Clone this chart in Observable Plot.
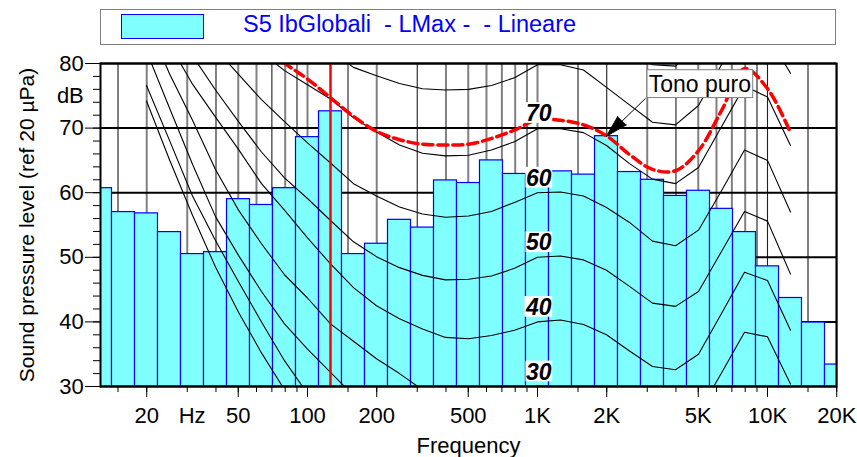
<!DOCTYPE html>
<html>
<head>
<meta charset="utf-8">
<script src="https://cdn.jsdelivr.net/npm/d3@7"></script>
<script src="https://cdn.jsdelivr.net/npm/@observablehq/plot@0.6"></script>
<style>
  html, body { margin: 0; padding: 0; background: #fff; }
  body { width: 857px; height: 457px; overflow: hidden; font-family: "Liberation Sans", Arial, sans-serif; }
  #legend { position: relative; width: 857px; height: 50px; }
  #legend .box { position: absolute; left: 100px; top: 9px; width: 734px; height: 34px; border: 1px solid #7f7f7f; }
  #legend .swatch { position: absolute; left: 20px; top: 4px; width: 81px; height: 23px; background: #80ffff; border: 1px solid #0000ff; }
  #legend .name { position: absolute; left: 142px; top: -3px; line-height: 34px; font-size: 23.5px; color: #0000ff; white-space: pre; }
  #chart svg { display: block; }
</style>
</head>
<body>
<div id="legend"><div class="box"><div class="swatch"></div><div class="name"></div></div></div>
<div id="chart"></div>
<script>
// Legend entry for the measured spectrum
const seriesName = "S5 IbGlobali  - LMax -  - Lineare";

// One-third-octave band spectrum (dB re 20 µPa)
const bandFreqs = [12.5, 16, 20, 25, 31.5, 40, 50, 63, 80, 100, 125, 160, 200, 250, 315, 400, 500, 630, 800,
  1000, 1250, 1600, 2000, 2500, 3150, 4000, 5000, 6300, 8000, 10000, 12500, 16000, 20000];
const bandLevels = [60.7, 57.0, 56.8, 53.9, 50.5, 50.8, 59.0, 58.1, 60.7, 68.6, 72.6, 50.5, 52.1, 55.8, 54.6, 61.9, 61.5, 65.0, 62.9,
  62.2, 63.3, 62.8, 68.75, 63.2, 62.0, 59.5, 60.3, 57.5, 53.9, 48.6, 43.7, 39.9, 33.4];

// Equal-loudness contours, sampled at the standard frequencies (null = off the chart)
const isoFreqs = [20, 25, 31.5, 40, 50, 63, 80, 100, 125, 160, 200, 250, 315, 400, 500, 630, 800,
  1000, 1250, 1600, 2000, 2500, 3150, 4000, 5000, 6300, 8000, 10000, 12500];
const isoThreshold = [74.2, 65.1, 56.5, 48.5, 41.5, 35.2, 29.5, null, null, null, null, null, null, null, null, null, null,
  null, null, null, null, null, null, null, null, null, null, null, null];
const iso10 = [76.6, 68.1, 59.5, 52.6, 46.2, 40.0, 34.0, 28.9, null, null, null, null, null, null, null, null, null,
  null, null, null, null, null, null, null, null, null, null, null, null];
const iso20 = [81.9, 73.1, 64.4, 56.3, 50.3, 44.7, 39.7, 35.8, 32.2, 28.6, null, null, null, null, null, null, null,
  null, null, null, null, null, null, null, null, null, null, null, null];
const iso30 = [86.8, 78.4, 71.2, 63.6, 57.3, 52.1, 47.3, 43.7, 39.7, 37.0, 34.3, 32.0, 29.5, 27.6, 27.4, 28.2, 28.9,
  30.1, 29.9, 29.2, 27.3, 24.8, 22.9, 22.5, 25.9, 32.1, 38.4, 37.7, 30.4];
const iso40 = [92.0, 83.0, 76.8, 71.7, 66.7, 61.4, 57.3, 53.0, 49.0, 45.3, 42.5, 40.5, 38.9, 37.6, 37.4, 37.9, 38.7,
  40.0, 40.3, 39.6, 38.0, 35.5, 33.1, 32.6, 35.0, 41.3, 47.7, 46.4, 38.7];
const iso50 = [98.0, 89.0, 81.2, 75.9, 71.0, 66.3, 62.3, 59.1, 55.7, 52.4, 50.1, 48.4, 47.2, 46.5, 46.6, 47.1, 48.3,
  50.0, 50.2, 49.6, 48.0, 45.5, 42.9, 42.4, 44.7, 50.9, 57.1, 55.6, 47.4];
const iso60 = [104.0, 95.0, 88.0, 82.3, 78.3, 74.4, 71.0, 67.7, 64.6, 61.4, 59.5, 57.8, 56.7, 56.2, 56.4, 57.1, 58.5,
  60.0, 60.1, 59.5, 57.7, 55.4, 52.5, 51.8, 54.2, 60.3, 66.6, 65.0, 57.0];
const iso70 = [110.0, 101.0, 95.0, 90.0, 86.0, 81.7, 78.9, 76.7, 74.5, 71.6, 69.4, 67.4, 66.1, 65.7, 65.8, 66.6, 67.9,
  69.9, 69.9, 69.3, 67.3, 64.5, 62.1, 61.4, 63.9, 70.2, 76.5, 74.8, 67.3];
const iso80 = [null, null, null, null, null, null, null, null, 82.0, 79.4, 78.1, 76.9, 76.1, 75.9, 76.0, 76.6, 77.8,
  79.8, 79.8, 79.0, 76.3, 73.6, 70.9, 70.5, 73.5, 79.8, 86.1, 84.4, 78.5];
const iso90 = [null, null, null, null, null, null, null, null, null, null, null, null, null, null, null, null, null,
  null, null, 88.5, 85.5, 82.5, 79.8, 79.6, 82.5, 89.0, null, null, null];

// Contour through the pure tone
const toneIsophone = [null, null, null, null, null, 83.5, 80.1, 77.6, 74.7, 71.8, 69.5, 68.2, 67.5, 67.4, 67.5, 68.4, 69.7,
  71.3, 71.2, 70.5, 68.8, 65.9, 63.6, 63.4, 66.5, 72.7, 79.2, 76.1, 69.3];

// Contour labels (phon)
const phonLabels = [30, 40, 50, 60, 70];

// Frequency grid: grey lines, plus a few drawn as thin dark lines
const gridFreqs = [15, 20, 30, 40, 50, 60, 70, 80, 90, 100, 150, 200, 300, 400, 500, 600, 700, 800, 900,
  1000, 1500, 2000, 3000, 4000, 5000, 6000, 7000, 8000, 9000, 10000, 15000, 20000];
const darkGridFreqs = [70, 90, 150, 300, 1500, 2000, 4000, 10000];
const majorFreqs = [20, 50, 100, 200, 500, 1000, 2000, 5000, 10000, 20000];
const freqTickFreqs = [20, 31.5, 50, 100, 200, 500, 1000, 2000, 5000, 10000, 20000];
const freqTickLabels = ["20", "Hz", "50", "100", "200", "500", "1K", "2K", "5K", "10K", "20K"];
const levelTicks = [30, 40, 50, 60, 70, 80];
const levelMinorTicks = d3.range(30, 81, 2);
const unitLabel = "dB";
const unitLevel = 75;

// Pure tone annotation
const toneText = "Tono puro";
const toneFreq = 2000;
const toneLabelAt = {f: 5080, level: 76.8};
const toneLeaderFrom = {f: 2950, level: 74.6};

const yTitle = "Sound pressure level (ref 20 µPa)";
const xTitle = "Frequency";

// ---- derived tables ----
const exactBand = f => 1000 * 10 ** (Math.round(10 * Math.log10(f / 1000)) / 10);
const yMin = levelTicks[0];

const bars = bandFreqs.map((f, i) => ({
  f: exactBand(f),
  lo: exactBand(f) * 10 ** -0.05,
  hi: exactBand(f) * 10 ** 0.05,
  level: bandLevels[i]
}));

const contours = [
  ["threshold", isoThreshold], ["10", iso10], ["20", iso20], ["30", iso30], ["40", iso40],
  ["50", iso50], ["60", iso60], ["70", iso70], ["80", iso80], ["90", iso90]
];
const contourRows = contours.flatMap(([curve, values]) =>
  isoFreqs.map((f, i) => ({curve, f: exactBand(f), level: values[i]})));
const toneRows = isoFreqs.map((f, i) => ({f: exactBand(f), level: toneIsophone[i]}))
  .filter(d => d.level != null);

const maxLevel = d3.max(bandLevels);
const maxBand = bars[bandLevels.indexOf(maxLevel)];
const toneBar = bars[bandFreqs.indexOf(toneFreq)];

const phonRows = phonLabels.map(p => ({f: 1012, level: p + 2.2, text: String(p)}));
const freqLabelRows = freqTickFreqs.map((f, i) => ({f, text: freqTickLabels[i]}));
const greyGridFreqs = gridFreqs.filter(f => !darkGridFreqs.includes(f));

const fontFamily = '"Liberation Sans", Arial, sans-serif';

document.querySelector("#legend .name").textContent = seriesName;

const chart = Plot.plot({
  width: 857,
  height: 407,
  marginTop: 13,
  marginRight: 21,
  marginBottom: 71,
  marginLeft: 100,
  style: {fontFamily, fontSize: "22px", background: "white", color: "black", overflow: "visible"},
  x: {type: "log", domain: [10 ** 1.1, 10 ** 4.3], label: null},
  y: {domain: [30, 80], label: null},
  marks: [
    // grid
    Plot.ruleX(greyGridFreqs, {stroke: "#808080", strokeWidth: 2}),
    Plot.ruleX(darkGridFreqs, {stroke: "#202020", strokeWidth: 1.1}),
    Plot.ruleY(levelTicks, {stroke: "black", strokeWidth: 2}),
    // spectrum
    Plot.rectY(bars, {x1: "lo", x2: "hi", y1: yMin, y2: "level", fill: "#80ffff", stroke: "#0000ff", strokeWidth: 1.2, clip: true}),
    // equal-loudness contours
    Plot.line(contourRows, {x: "f", y: "level", z: "curve", stroke: "black", strokeWidth: 1.1, clip: true}),
    Plot.line(toneRows, {x: "f", y: "level", stroke: "#ff0000", strokeWidth: 3.5, strokeDasharray: "10,5", curve: "catmull-rom", clip: true}),
    // band with the maximum level
    Plot.ruleX([maxBand], {x: "f", stroke: "#ff0000", strokeWidth: 2.5}),
    // contour labels
    Plot.text(phonRows, {x: "f", y: "level", text: "text", fontSize: 23, fontWeight: "bold", fontStyle: "italic",
      fill: "black", ariaDescription: "phon-labels"}),
    // pure tone annotation
    Plot.link([toneBar], {x1: () => toneLeaderFrom.f, y1: () => toneLeaderFrom.level, x2: "f", y2: "level", stroke: "black", strokeWidth: 1}),
    Plot.vector([toneBar], {x: "f", y: "level", anchor: "end", shape: "spike", length: 22, r: 6, rotate: 225,
      fill: "black", stroke: "black", strokeWidth: 1}),
    Plot.text([toneLabelAt], {x: "f", y: "level", text: () => toneText, fontSize: 23, fill: "black", ariaDescription: "tone-label"}),
    // frame and axes
    Plot.frame({stroke: "black", strokeWidth: 2}),
    Plot.axisX({ticks: gridFreqs, tickSize: 6, fill: "none", label: null}),
    Plot.axisX({ticks: majorFreqs, tickSize: 11, fill: "none", label: null}),
    Plot.text(freqLabelRows, {x: "f", frameAnchor: "bottom", dy: 20.7, lineAnchor: "top", text: "text", fontSize: 22, fill: "black"}),
    Plot.axisY({ticks: levelMinorTicks, tickSize: 7, fill: "none", label: null}),
    Plot.axisY({ticks: levelTicks, tickSize: 15, fill: "none", label: null}),
    Plot.axisY({ticks: levelTicks, tickSize: 0, tickPadding: 16.7, fontSize: 22, label: null}),
    Plot.axisY({ticks: [unitLevel], tickSize: 0, tickPadding: 16.7, tickFormat: () => unitLabel, fontSize: 22, label: null}),
    // titles
    Plot.text([yTitle], {frameAnchor: "left", dx: -73, rotate: -90, text: d => d, fontSize: 21, textAnchor: "middle", lineAnchor: "middle"}),
    Plot.text([xTitle], {frameAnchor: "bottom", dy: 59, text: d => d, fontSize: 22, textAnchor: "middle", lineAnchor: "middle"})
  ]
});

document.getElementById("chart").append(chart);

// white boxes behind the contour labels and the tone label
function boxBehind(desc, {fs, top, bottom, padX, stroke}) {
  chart.querySelectorAll(`g[aria-description="${desc}"] text`).forEach(t => {
    const b = t.getBBox();
    const baseline = b.y + 0.905 * fs;
    const r = document.createElementNS("http://www.w3.org/2000/svg", "rect");
    r.setAttribute("x", b.x - padX);
    r.setAttribute("width", b.width + 2 * padX);
    r.setAttribute("y", baseline - top * fs);
    r.setAttribute("height", (top + bottom) * fs);
    r.setAttribute("fill", "white");
    r.setAttribute("stroke", stroke);
    r.setAttribute("stroke-width", stroke === "none" ? 0 : 1);
    const tr = t.getAttribute("transform");
    if (tr) r.setAttribute("transform", tr);
    t.parentNode.insertBefore(r, t);
  });
}
boxBehind("phon-labels", {fs: 23, top: 0.82, bottom: 0.08, padX: 0.5, stroke: "none"});
boxBehind("tone-label", {fs: 23, top: 0.94, bottom: 0.27, padX: 1.7, stroke: "#808080"});
</script>
</body>
</html>
